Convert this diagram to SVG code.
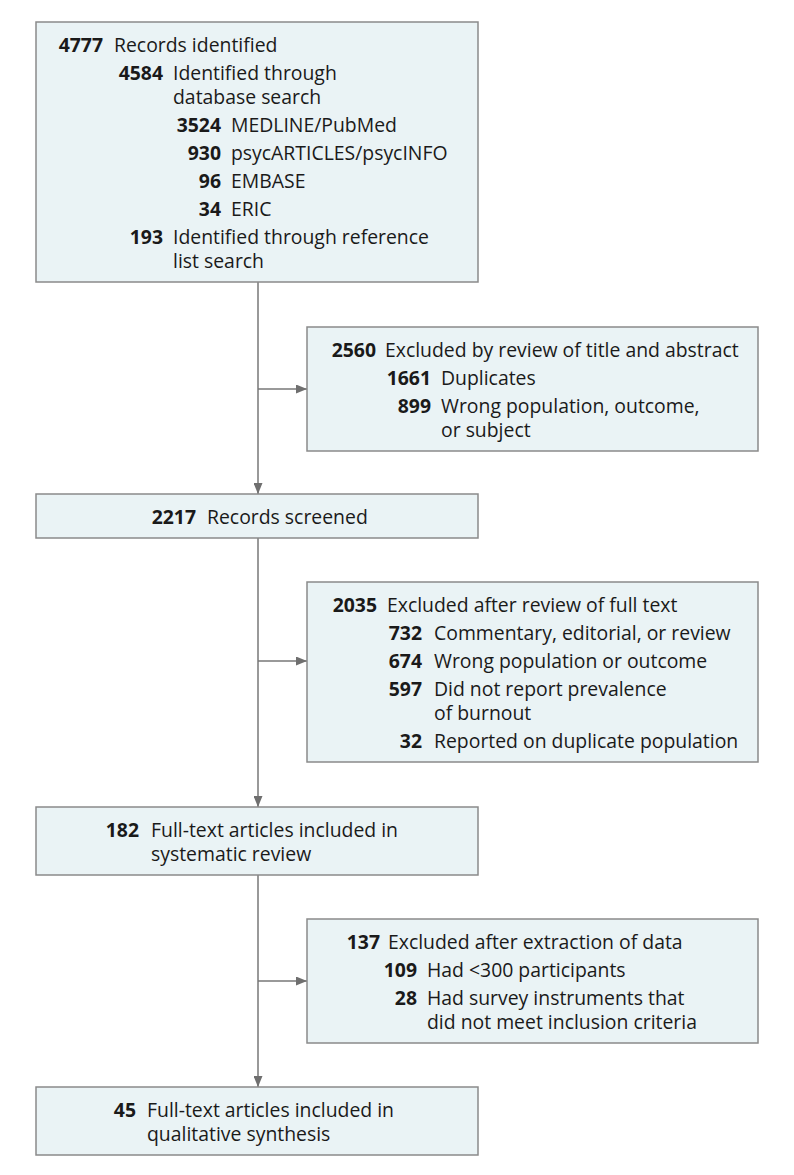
<svg xmlns="http://www.w3.org/2000/svg" width="794" height="1175" viewBox="0 0 794 1175">
<style>
  .box { fill: #eaf3f5; stroke: #8a8a8a; stroke-width: 1.5; }
  .n { font-family: "Open Sans", "Liberation Sans", sans-serif; font-size: 19.4px; font-weight: 700; fill: #1a1a1a; text-anchor: end; }
  .t { font-family: "Open Sans", "Liberation Sans", sans-serif; font-size: 19.4px; font-weight: 400; fill: #1a1a1a; }
  .c { fill: none; stroke: #777777; stroke-width: 1.5; }
</style>
<defs>
  <marker id="ah" markerUnits="userSpaceOnUse" markerWidth="11" markerHeight="9" refX="11" refY="4.5" orient="auto">
    <path d="M0,0 L11,4.5 L0,9 Z" fill="#6f6f6f"/>
  </marker>
</defs>
<rect width="794" height="1175" fill="#ffffff"/>

<g id="connectors">
  <line class="c" x1="258" y1="282" x2="258" y2="494" marker-end="url(#ah)"/>
  <line class="c" x1="258" y1="389" x2="307" y2="389" marker-end="url(#ah)"/>
  <line class="c" x1="258" y1="538" x2="258" y2="807" marker-end="url(#ah)"/>
  <line class="c" x1="258" y1="661" x2="307" y2="661" marker-end="url(#ah)"/>
  <line class="c" x1="258" y1="875" x2="258" y2="1087" marker-end="url(#ah)"/>
  <line class="c" x1="258" y1="981" x2="307" y2="981" marker-end="url(#ah)"/>
</g>

<g id="records-identified">
  <rect class="box" x="36" y="22" width="442" height="260"/>
  <text class="n" x="103" y="52">4777</text><text class="t" x="114" y="52">Records identified</text>
  <text class="n" x="163" y="80">4584</text><text class="t" x="173" y="80">Identified through</text>
  <text class="t" x="173" y="104">database search</text>
  <text class="n" x="221" y="132">3524</text><text class="t" x="231" y="132">MEDLINE/PubMed</text>
  <text class="n" x="221" y="160">930</text><text class="t" x="231" y="160">psycARTICLES/psycINFO</text>
  <text class="n" x="221" y="188">96</text><text class="t" x="231" y="188">EMBASE</text>
  <text class="n" x="221" y="216">34</text><text class="t" x="231" y="216">ERIC</text>
  <text class="n" x="163" y="244">193</text><text class="t" x="173" y="244">Identified through reference</text>
  <text class="t" x="173" y="268">list search</text>
</g>

<g id="excluded-title-abstract">
  <rect class="box" x="307" y="327" width="451" height="124"/>
  <text class="n" x="376" y="357">2560</text><text class="t" x="385" y="357">Excluded by review of title and abstract</text>
  <text class="n" x="431" y="385">1661</text><text class="t" x="441" y="385">Duplicates</text>
  <text class="n" x="431" y="413">899</text><text class="t" x="441" y="413">Wrong population, outcome,</text>
  <text class="t" x="441" y="437">or subject</text>
</g>

<g id="records-screened">
  <rect class="box" x="36" y="494" width="442" height="44"/>
  <text class="n" x="196" y="524">2217</text><text class="t" x="207" y="524">Records screened</text>
</g>

<g id="excluded-full-text">
  <rect class="box" x="307" y="582" width="451" height="180"/>
  <text class="n" x="377" y="612">2035</text><text class="t" x="387" y="612">Excluded after review of full text</text>
  <text class="n" x="422" y="640">732</text><text class="t" x="434" y="640">Commentary, editorial, or review</text>
  <text class="n" x="422" y="668">674</text><text class="t" x="434" y="668">Wrong population or outcome</text>
  <text class="n" x="422" y="696">597</text><text class="t" x="434" y="696">Did not report prevalence</text>
  <text class="t" x="434" y="720">of burnout</text>
  <text class="n" x="422" y="748">32</text><text class="t" x="434" y="748">Reported on duplicate population</text>
</g>

<g id="systematic-review">
  <rect class="box" x="36" y="807" width="442" height="68"/>
  <text class="n" x="139" y="837">182</text><text class="t" x="151" y="837">Full-text articles included in</text>
  <text class="t" x="151" y="861">systematic review</text>
</g>

<g id="excluded-extraction">
  <rect class="box" x="307" y="919" width="451" height="124"/>
  <text class="n" x="380" y="949">137</text><text class="t" x="388" y="949">Excluded after extraction of data</text>
  <text class="n" x="417" y="977">109</text><text class="t" x="427" y="977">Had &lt;300 participants</text>
  <text class="n" x="417" y="1005">28</text><text class="t" x="427" y="1005">Had survey instruments that</text>
  <text class="t" x="427" y="1029">did not meet inclusion criteria</text>
</g>

<g id="qualitative-synthesis">
  <rect class="box" x="36" y="1087" width="442" height="68"/>
  <text class="n" x="136" y="1117">45</text><text class="t" x="147" y="1117">Full-text articles included in</text>
  <text class="t" x="147" y="1141">qualitative synthesis</text>
</g>
</svg>
